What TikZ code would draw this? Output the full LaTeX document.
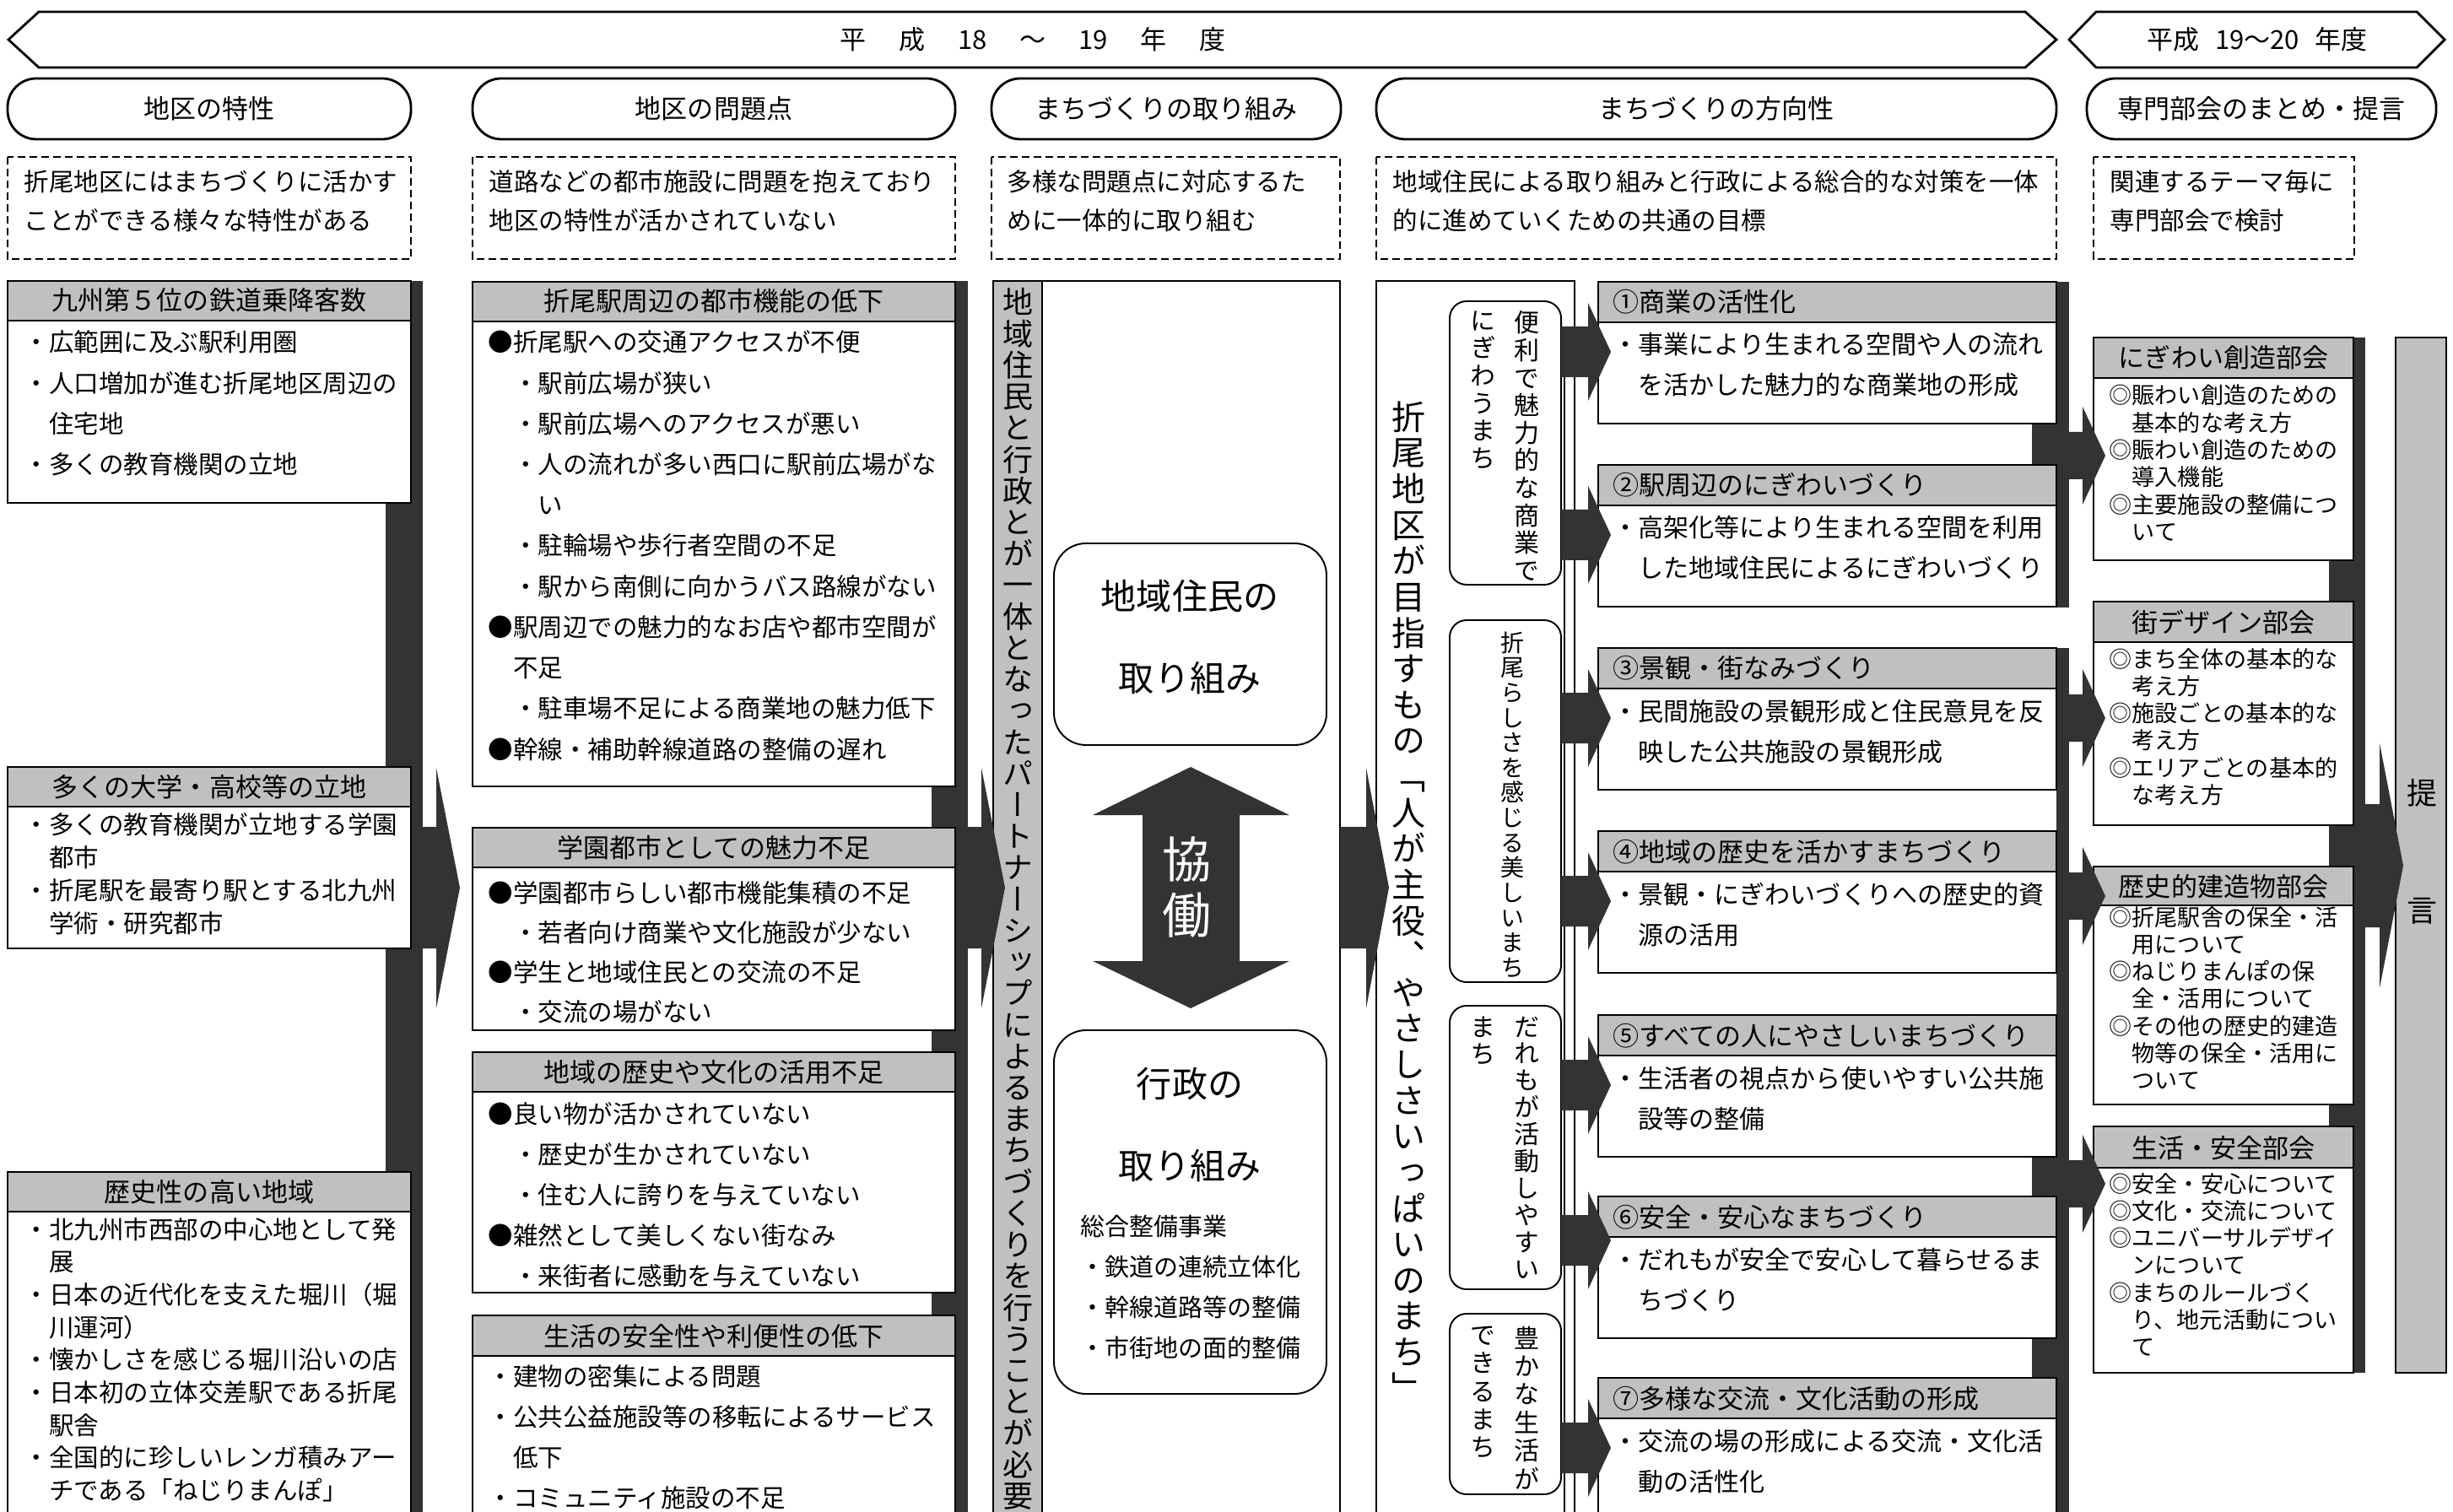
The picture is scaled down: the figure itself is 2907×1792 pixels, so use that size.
\documentclass[tikz,border=0pt]{standalone}
\usepackage{fontspec}
\setmainfont{Noto Sans CJK JP}
\newfontfamily\vjp[RawFeature=+vert]{Noto Sans CJK JP}
\definecolor{dk}{HTML}{333333}
\definecolor{gr}{HTML}{C0C0C0}
\ExplSyntaxOn
\NewDocumentCommand\vstack{O{1em}m}{
  \vbox{\baselineskip=#1\lineskip=0pt\lineskiplimit=-100pt
    \tl_map_inline:nn {#2}{\hbox_to_wd:nn{1em}{\hss##1\hss}}}}
\ExplSyntaxOff
\newcommand\txlines[6]{\foreach \ttx [count=\kk from 0] in {#6}{\node[tx,#5,name=#1-\kk] at (#2,{#3+\kk*#4}) {\ttx};}}
\newcommand\vtx[7][black]{\node[inner sep=0pt,anchor=north,text=#1,font=\vjp\fontsize{#5}{#5}\selectfont] (#2) at (#3,#4) {\vstack[#6]{#7}};}
\newcommand\tbox[6]{%
  \fill[white] (#2,#3) rectangle (#4,#5);
  \fill[gr] (#2,#3) rectangle (#4,#6);
  \draw[bx] (#2,#3) rectangle (#4,#5) (#2,#6) -- (#4,#6);
  \coordinate (#1) at (#2,#3);}
\tikzset{
  bx/.style={line width=0.55pt},
  hd/.style={line width=0.8pt},
  dsh/.style={line width=0.6pt,dash pattern=on 0.09cm off 0.05cm},
  tx/.style={anchor=base west,inner sep=0pt},
  fA/.style={font=\fontsize{8.39pt}{10pt}\selectfont},
  fB/.style={font=\fontsize{8.54pt}{10pt}\selectfont},
  fT/.style={font=\fontsize{8.82pt}{10pt}\selectfont},
  fS/.style={font=\fontsize{7.70pt}{9pt}\selectfont},
  fM/.style={font=\fontsize{8.25pt}{10pt}\selectfont},
  fL/.style={font=\fontsize{11.95pt}{14pt}\selectfont}
}
\begin{document}
\begin{tikzpicture}[x=0.01cm,y=-0.01cm]
\useasboundingbox (0,0) rectangle (2907,1792);
\fill[white] (0,0) rectangle (2907,1792);
\clip (0,0) rectangle (2907,1792);

% ---- banners
\draw[hd] (10,47) -- (46,14) -- (2400,14) -- (2437,47) -- (2400,80) -- (46,80) -- cycle;
\node[fT,anchor=base,inner sep=0pt] (ban1) at (1224,59) {平\hspace{1.25em}成\hspace{1.25em}18\hspace{1.25em}～\hspace{1.25em}19\hspace{1.25em}年\hspace{1.25em}度};
\draw[hd] (2452,47) -- (2484,14) -- (2864,14) -- (2897,47) -- (2864,80) -- (2484,80) -- cycle;
\node[fT,anchor=base,inner sep=0pt] (ban2) at (2675,59) {平成\hspace{0.6em}19～20\hspace{0.6em}年度};

% ---- headers
\foreach \a/\b/\t [count=\i] in {9/487/地区の特性,560/1132/地区の問題点,1175/1589/まちづくりの取り組み,1631/2437/まちづくりの方向性,2473/2887/専門部会のまとめ・提言}{
  \draw[hd,rounded corners=0.34cm] (\a,93) rectangle (\b,165);
  \node[fT,anchor=base,inner sep=0pt,name=h\i] at ({(\a+\b)/2},141) {\t};
}
% ---- dashed description boxes
\foreach \a/\b [count=\i] in {9/487,560/1132,1175/1588,1631/2437,2481/2790}{
  \draw[dsh] (\a,186) rectangle (\b,307);
}
\txlines{d1}{28}{227}{46}{fA}{折尾地区にはまちづくりに活かす,ことができる様々な特性がある}
\txlines{d2}{579}{227}{46}{fA}{道路などの都市施設に問題を抱えており,地区の特性が活かされていない}
\txlines{d3}{1193}{227}{46}{fA}{多様な問題点に対応するた,めに一体的に取り組む}
\txlines{d4}{1650}{227}{46}{fA}{地域住民による取り組みと行政による総合的な対策を一体,的に進めていくための共通の目標}
\txlines{d5}{2500}{227}{46}{fA}{関連するテーマ毎に,専門部会で検討}

% ---- dark bars (behind boxes)
\fill[dk] (457,333) rectangle (501,1800);
\fill[dk] (1104,333) rectangle (1147,1800);
\fill[dk] (2408,334) rectangle (2452,720);
\fill[dk] (2437,768) rectangle (2452,1203);
\fill[dk] (2408,1203) rectangle (2452,1800);
\fill[dk] (2760,400) rectangle (2803,1627);

% ---- column 1
\tbox{A}{9}{333}{487}{596}{380}
\tbox{B}{9}{909}{487}{1124}{956}
\tbox{C}{9}{1389}{487}{1800}{1436}
\node[fT,anchor=base,inner sep=0pt] (At) at (248,368) {九州第５位の鉄道乗降客数};
\node[fT,anchor=base,inner sep=0pt] (Bt) at (248,944) {多くの大学・高校等の立地};
\node[fT,anchor=base,inner sep=0pt] (Ct) at (248,1424) {歴史性の高い地域};
\txlines{a}{28}{417}{48.2}{fA}{・広範囲に及ぶ駅利用圏,・人口増加が進む折尾地区周辺の,　住宅地,・多くの教育機関の立地}
\txlines{b}{28}{988}{39}{fA}{・多くの教育機関が立地する学園,　都市,・折尾駅を最寄り駅とする北九州,　学術・研究都市}
\txlines{c}{28}{1468}{38.7}{fA}{・北九州市西部の中心地として発,　展,・日本の近代化を支えた堀川（堀,　川運河）,・懐かしさを感じる堀川沿いの店,・日本初の立体交差駅である折尾,　駅舎,・全国的に珍しいレンガ積みアー,　チである「ねじりまんぽ」}

% ---- column 2
\tbox{D}{560}{334}{1132}{932}{381}
\tbox{E}{560}{981}{1132}{1221}{1028}
\tbox{F}{560}{1247}{1132}{1532}{1294}
\tbox{G}{560}{1559}{1132}{1800}{1607}
\node[fT,anchor=base,inner sep=0pt] (Dt) at (846,369) {折尾駅周辺の都市機能の低下};
\node[fT,anchor=base,inner sep=0pt] (Et) at (846,1016) {学園都市としての魅力不足};
\node[fT,anchor=base,inner sep=0pt] (Ft) at (846,1282) {地域の歴史や文化の活用不足};
\node[fT,anchor=base,inner sep=0pt] (Gt) at (846,1595) {生活の安全性や利便性の低下};
\txlines{dd}{578}{417}{48.2}{fA}{●折尾駅への交通アクセスが不便,　・駅前広場が狭い,　・駅前広場へのアクセスが悪い,　・人の流れが多い西口に駅前広場がな,　　い,　・駐輪場や歩行者空間の不足,　・駅から南側に向かうバス路線がない,●駅周辺での魅力的なお店や都市空間が,　不足,　・駐車場不足による商業地の魅力低下,●幹線・補助幹線道路の整備の遅れ}
\txlines{ee}{578}{1069}{47.3}{fA}{●学園都市らしい都市機能集積の不足,　・若者向け商業や文化施設が少ない,●学生と地域住民との交流の不足,　・交流の場がない}
\txlines{ff}{578}{1331}{48}{fA}{●良い物が活かされていない,　・歴史が生かされていない,　・住む人に誇りを与えていない,●雑然として美しくない街なみ,　・来街者に感動を与えていない}
\txlines{gg}{578}{1642}{48.3}{fA}{・建物の密集による問題,・公共公益施設等の移転によるサービス,　低下,・コミュニティ施設の不足}

% ---- column 3
\draw[bx,fill=white] (1177,333) rectangle (1588,1800);
\filldraw[bx,fill=gr] (1177,333) rectangle (1235,1800);
\vtx{v3}{1206}{341}{10.24pt}{0.372cm}{地域住民と行政とが一体となったパートナーシップによるまちづくりを行うことが必要}
\draw[bx,rounded corners=0.38cm] (1249,644) rectangle (1572,883);
\draw[bx,rounded corners=0.38cm] (1249,1221) rectangle (1572,1652);
\node[fL,anchor=base,inner sep=0pt] (u1a) at (1410,723) {地域住民の};
\node[fL,anchor=base,inner sep=0pt] (u1b) at (1410,820) {取り組み};
\node[fL,anchor=base,inner sep=0pt] (u2a) at (1410,1300) {行政の};
\node[fL,anchor=base,inner sep=0pt] (u2b) at (1410,1397) {取り組み};
\txlines{u2}{1280}{1464}{48}{fM}{総合整備事業,・鉄道の連続立体化,・幹線道路等の整備,・市街地の面的整備}
\fill[dk] (1411,909) -- (1528,966) -- (1469,966) -- (1469,1139) -- (1528,1139) -- (1411,1195) -- (1295,1139) -- (1354,1139) -- (1354,966) -- (1295,966) -- cycle;
\vtx[white]{kyo}{1406}{991}{16.5pt}{0.66cm}{協働}

% ---- column 4
\draw[bx,fill=white] (1631,333) rectangle (1866,1800);
\draw[bx] (1854,388) -- (1854,1800);
\vtx{v4}{1669}{475}{11.38pt}{0.426cm}{折尾地区が目指すもの「人が主役、やさしさいっぱいのまち」}
\draw[bx,rounded corners=0.2cm] (1718,357) rectangle (1850,693);
\draw[bx,rounded corners=0.2cm] (1718,735) rectangle (1850,1164);
\draw[bx,rounded corners=0.2cm] (1718,1192) rectangle (1850,1528);
\draw[bx,rounded corners=0.2cm] (1718,1557) rectangle (1850,1771);
\vtx{r1a}{1809}{368}{8.54pt}{0.326cm}{便利で魅力的な商業で}
\vtx{r1b}{1757}{368}{8.54pt}{0.326cm}{にぎわうまち}
\vtx{r2}{1792}{748}{7.97pt}{0.296cm}{折尾らしさを感じる美しいまち}
\vtx{r3a}{1809}{1204}{8.54pt}{0.319cm}{だれもが活動しやすい}
\vtx{r3b}{1757}{1204}{8.54pt}{0.319cm}{まち}
\vtx{r4a}{1809}{1571}{8.54pt}{0.334cm}{豊かな生活が}
\vtx{r4b}{1757}{1571}{8.54pt}{0.334cm}{できるまち}

% ---- column 5
\foreach \T/\ti/\la/\lb [count=\i] in {
 334/①商業の活性化/・事業により生まれる空間や人の流れ/　を活かした魅力的な商業地の形成,
 551/②駅周辺のにぎわいづくり/・高架化等により生まれる空間を利用/　した地域住民によるにぎわいづくり,
 768/③景観・街なみづくり/・民間施設の景観形成と住民意見を反/　映した公共施設の景観形成,
 985/④地域の歴史を活かすまちづくり/・景観・にぎわいづくりへの歴史的資/　源の活用,
 1203/⑤すべての人にやさしいまちづくり/・生活者の視点から使いやすい公共施/　設等の整備,
 1418/⑥安全・安心なまちづくり/・だれもが安全で安心して暮らせるま/　ちづくり,
 1633/⑦多様な交流・文化活動の形成/・交流の場の形成による交流・文化活/　動の活性化}{
  \tbox{P\i}{1894}{\T}{2437}{\T+168}{\T+48}
  \node[tx,fT,name=P\i t] at (1911,\T+36) {\ti};
  \node[tx,fB,name=P\i a] at (1911,\T+86) {\la};
  \node[tx,fB,name=P\i b] at (1911,\T+134) {\lb};
}

% ---- column 6
\tbox{K1}{2481}{400}{2789}{664}{448}
\tbox{K2}{2481}{713}{2789}{978}{761}
\tbox{K3}{2481}{1027}{2789}{1309}{1073}
\tbox{K4}{2481}{1335}{2789}{1627}{1384}
\node[fT,anchor=base,inner sep=0pt] (K1t) at (2635,436) {にぎわい創造部会};
\node[fT,anchor=base,inner sep=0pt] (K2t) at (2635,749) {街デザイン部会};
\node[fT,anchor=base,inner sep=0pt] (K3t) at (2635,1062) {歴史的建造物部会};
\node[fT,anchor=base,inner sep=0pt] (K4t) at (2635,1372) {生活・安全部会};
\txlines{k1}{2499}{479}{32.3}{fS}{◎賑わい創造のための,　基本的な考え方,◎賑わい創造のための,　導入機能,◎主要施設の整備につ,　いて}
\txlines{k2}{2499}{791}{32.3}{fS}{◎まち全体の基本的な,　考え方,◎施設ごとの基本的な,　考え方,◎エリアごとの基本的,　な考え方}
\txlines{k3}{2499}{1097}{32.3}{fS}{◎折尾駅舎の保全・活,　用について,◎ねじりまんぽの保,　全・活用について,◎その他の歴史的建造,　物等の保全・活用に,　ついて}
\txlines{k4}{2499}{1413}{32.3}{fS}{◎安全・安心について,◎文化・交流について,◎ユニバーサルデザイ,　ンについて,◎まちのルールづく,　り、地元活動につい,　て}

% ---- proposal bar
\filldraw[bx,fill=gr] (2839,400) rectangle (2899,1627);
\node[font=\fontsize{10.24pt}{12pt}\selectfont,inner sep=0pt] (tei) at (2870,940) {提};
\node[font=\fontsize{10.24pt}{12pt}\selectfont,inner sep=0pt] (gen) at (2870,1080) {言};

% ---- block arrows
\fill[dk] (501,980) -- (517,980) -- (517,910) -- (545,1052) -- (517,1195) -- (517,1124) -- (501,1124) -- cycle;
\fill[dk] (1147,980) -- (1163,980) -- (1163,910) -- (1191,1052) -- (1163,1195) -- (1163,1124) -- (1147,1124) -- cycle;
\fill[dk] (1588,980) -- (1619,980) -- (1619,910) -- (1646,1052) -- (1619,1195) -- (1619,1124) -- (1588,1124) -- cycle;
\fill[dk] (2803,953) -- (2820,953) -- (2820,881) -- (2848,1026) -- (2820,1171) -- (2820,1099) -- (2803,1099) -- cycle;
\foreach \c in {417,634,851,1068,1286,1470,1716}{
  \fill[dk] (1850,\c-30) -- (1882,\c-30) -- (1882,\c-58) -- (1909,\c) -- (1882,\c+58) -- (1882,\c+30) -- (1850,\c+30) -- cycle;
}
\foreach \c in {540,851,1062,1403}{
  \fill[dk] (2452,\c-28) -- (2468,\c-28) -- (2468,\c-58) -- (2495,\c) -- (2468,\c+58) -- (2468,\c+28) -- (2452,\c+28) -- cycle;
}
\end{tikzpicture}
\end{document}
